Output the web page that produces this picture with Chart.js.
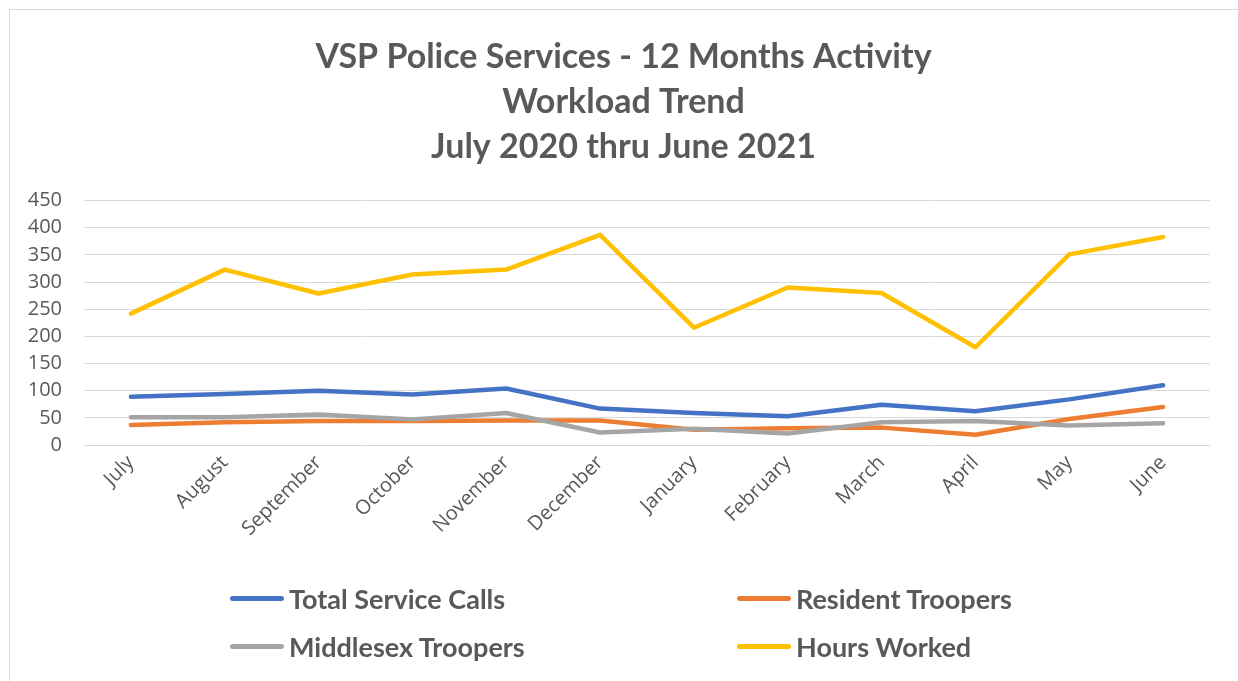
<!DOCTYPE html>
<html>
<head>
<meta charset="utf-8">
<title>VSP Police Services - 12 Months Activity</title>
<script src="https://cdn.jsdelivr.net/npm/chart.js@4.4.1/dist/chart.umd.min.js"></script>
<style>
  body { margin: 0; background: #fff; overflow: hidden; }
  .wrap { position: relative; width: 1238px; height: 681px; }
  .frame { position: absolute; left: 9px; top: 9px; width: 1240px; height: 700px; border: 1px solid #d9d9d9; }
  #chart { position: absolute; left: 0; top: 0; }
  .legend { position: absolute; left: 0; top: 582px; width: 1238px; font-family: Lato, "Liberation Sans", sans-serif;
            font-weight: bold; font-size: 27px; color: #595959; }
  .legend .item { position: absolute; display: flex; align-items: center; white-space: nowrap; }
  .legend .swatch { width: 54px; height: 5px; border-radius: 3px; margin-right: 5px; }
</style>
</head>
<body>
<div class="wrap">
  <div class="frame"></div>
  <canvas id="chart" width="1238" height="681"></canvas>
  <div class="legend" id="legend"></div>
</div>
<script>
// ===============data=================//
const months = ["July", "August", "September", "October", "November", "December",
                "January", "February", "March", "April", "May", "June"];

const totalServiceCalls = [89, 94, 100, 93, 104, 67, 59, 53, 74, 62, 84, 110];
const residentTroopers  = [37, 42, 44, 44, 45, 45, 28, 31, 32, 19, 48, 70];
const middlesexTroopers = [51, 51, 56, 47, 59, 23, 30, 21, 42, 44, 36, 40];
const hoursWorked       = [242, 323, 279, 314, 323, 387, 216, 290, 280, 180, 351, 383];

const seriesNames  = ["Total Service Calls", "Resident Troopers", "Middlesex Troopers", "Hours Worked"];
const seriesColors = ["#4472C4", "#ED7D31", "#A5A5A5", "#FFC000"];

const titleLines = ["VSP Police Services - 12 Months Activity", "Workload Trend", "July 2020 thru June 2021"];

//===========line chart=======================/
const textGray = "#595959";
const allSeries = [totalServiceCalls, residentTroopers, middlesexTroopers, hoursWorked];

const chart = document.getElementById("chart");

new Chart(chart, {
  type: "line",
  data: {
    labels: months,
    datasets: allSeries.map((vals, i) => ({
      label: seriesNames[i],
      data: vals,
      borderColor: seriesColors[i],
      backgroundColor: seriesColors[i],
      borderWidth: 4.5,
      borderCapStyle: "round",
      borderJoinStyle: "round",
      pointRadius: 0,
      tension: 0,
      order: allSeries.length - i   // later series drawn on top, like excel
    }))
  },
  options: {
    responsive: false,
    animation: false,
    // left/right padding keeps the title centred where excel had it
    layout: { padding: { left: 19, right: 10, top: 10, bottom: 106 } },
    plugins: {
      legend: { display: false },
      tooltip: { enabled: false },
      title: {
        display: true,
        text: titleLines,
        color: textGray,
        font: { family: "Lato, 'Liberation Sans', sans-serif", size: 34, weight: "bold", lineHeight: 1.32 },
        padding: { top: 25, bottom: 31 }
      }
    },
    scales: {
      x: {
        offset: true,
        grid: { display: false, drawTicks: false },
        border: { display: false },
        ticks: {
          color: textGray,
          font: { family: "'Open Sans', sans-serif", size: 20 },
          minRotation: 45,
          maxRotation: 45,
          autoSkip: false,
          padding: 6
        },
        afterFit: (scale) => { scale.height = 130; }
      },
      y: {
        min: 0,
        max: 450,
        grid: { color: "#D9D9D9", lineWidth: 1, drawTicks: false },
        border: { display: false },
        ticks: {
          stepSize: 50,
          autoSkip: false,
          color: textGray,
          font: { family: "'Open Sans', sans-serif", size: 20 },
          padding: 22
        },
        afterFit: (scale) => { scale.width = 65; }
      },
      // empty right axis, only to leave the gap right of the plot
      yGap: {
        position: "right",
        grid: { display: false, drawTicks: false },
        border: { display: false },
        ticks: { display: false },
        afterFit: (scale) => { scale.width = 18; }
      }
    }
  }
});

//===========legend (2 columns like excel)=======================/
const legend = document.getElementById("legend");
const legendPos = [[230, 0], [737, 0], [230, 48], [737, 48]];
seriesNames.forEach((name, i) => {
  const item = document.createElement("div");
  item.className = "item";
  item.style.left = legendPos[i][0] + "px";
  item.style.top = legendPos[i][1] + "px";
  item.innerHTML = `<span class="swatch" style="background:${seriesColors[i]}"></span><span>${name}</span>`;
  legend.appendChild(item);
});
</script>
</body>
</html>
